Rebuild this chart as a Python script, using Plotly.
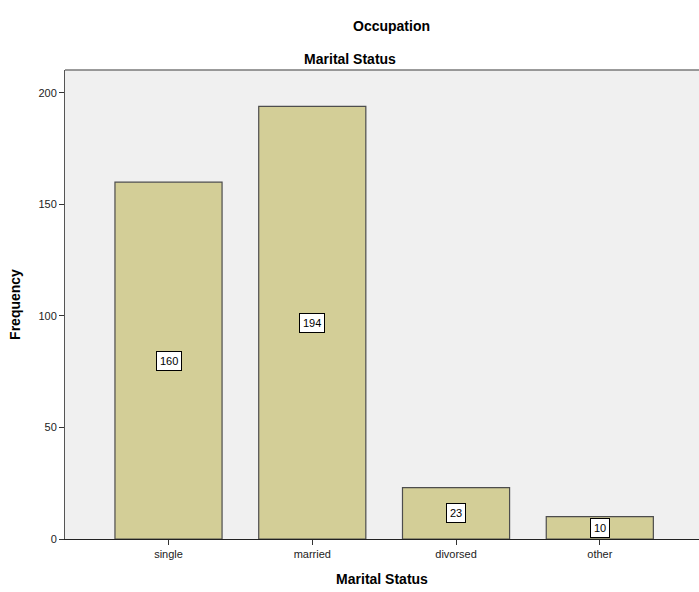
import plotly.graph_objects as go

categories = ["single", "married", "divorsed", "other"]
frequencies = [160, 194, 23, 10]
y_ticks = [0, 50, 100, 150, 200]

font_family = "Liberation Sans, Arial, sans-serif"

fig = go.Figure()
fig.add_trace(go.Bar(
    x=categories,
    y=frequencies,
    width=0.745,
    marker=dict(color="#D3CE97", line=dict(color="#4d4d4d", width=1.2)),
    hoverinfo="x+y",
))

# value boxes at the middle of each bar
for cat, val in zip(categories, frequencies):
    fig.add_annotation(
        x=cat, y=val / 2, text=str(val), showarrow=False,
        font=dict(family=font_family, size=11, color="#000000"),
        bgcolor="#ffffff", bordercolor="#000000", borderwidth=1, borderpad=3,
    )

# upper heading, placed relative to the plot area
fig.add_annotation(
    x=(391 - 65) / 634, xref="paper", y=1 + (70 - 26) / 469, yref="paper",
    xanchor="center", yanchor="middle", text="<b>Occupation</b>",
    showarrow=False, font=dict(family=font_family, size=14, color="#000000"),
)

# grey frame line along the top of the plot area
fig.add_shape(type="line", xref="paper", yref="paper", x0=0, x1=1, y0=1, y1=1,
              line=dict(color="#7a7a7a", width=1.5))

fig.update_layout(
    width=699, height=592,
    margin=dict(l=65, r=0, t=70, b=53),
    paper_bgcolor="#ffffff",
    plot_bgcolor="#F0F0F0",
    showlegend=False,
    font=dict(family=font_family, color="#333333", size=11),
    title=dict(
        text="<b>Marital Status</b>", x=350 / 699, xanchor="center",
        y=1 - 59 / 592, yanchor="middle",
        font=dict(family=font_family, size=14, color="#000000"),
    ),
    xaxis=dict(
        range=[-0.72, 3.69],
        showline=True, linecolor="#222222", linewidth=1,
        ticks="outside", ticklen=5, tickcolor="#333333",
        showgrid=False, zeroline=False,
        tickfont=dict(family=font_family, size=11, color="#222222"),
        title=dict(text="<b>Marital Status</b>", standoff=14,
                   font=dict(family=font_family, size=14, color="#000000")),
    ),
    yaxis=dict(
        range=[0, 210.3],
        tickvals=y_ticks,
        showline=True, linecolor="#555555", linewidth=1,
        ticks="outside", ticklen=5, tickcolor="#333333",
        showgrid=False, zeroline=False,
        tickfont=dict(family=font_family, size=11, color="#222222"),
        title=dict(text="<b>Frequency</b>", standoff=14,
                   font=dict(family=font_family, size=14, color="#000000")),
    ),
)

fig.write_html("out.html")
